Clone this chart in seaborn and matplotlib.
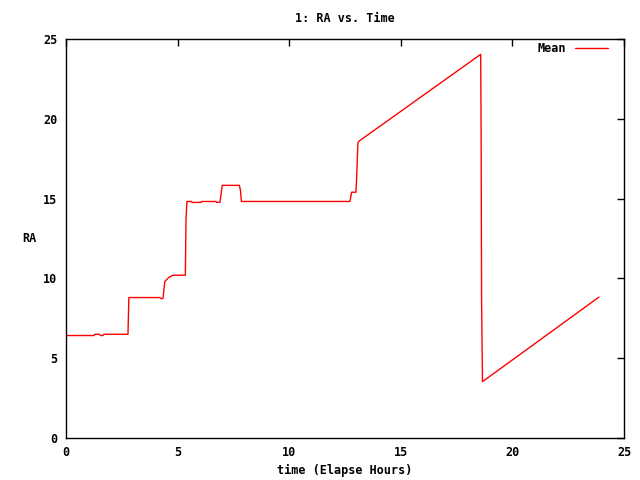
import matplotlib
matplotlib.use("Agg")
import matplotlib.pyplot as plt
import seaborn as sns
import pandas as pd

# mean RA per elapsed hour
time_hours = [0, 1.25, 1.3, 1.5, 1.55, 1.65, 1.7, 2.78, 2.82, 4.2, 4.3, 4.35,
              4.43, 4.6, 4.8, 5.35, 5.38, 5.42, 5.63, 5.65, 6.05, 6.07, 6.72,
              6.75, 6.9, 6.97, 7.0, 7.77, 7.82, 7.86, 12.72, 12.8, 12.99,
              13.02, 13.08, 13.13, 18.58, 18.6, 18.62, 18.66, 23.88]
ra_mean = [6.42, 6.42, 6.5, 6.5, 6.42, 6.42, 6.5, 6.5, 8.8, 8.8, 8.72, 8.75,
           9.8, 10.05, 10.2, 10.2, 13.7, 14.82, 14.82, 14.76, 14.76, 14.82, 14.82,
           14.76, 14.76, 15.5, 15.83, 15.83, 15.5, 14.82, 14.82, 15.4, 15.4,
           16.2, 18.5, 18.6, 24.04, 18.9, 8.7, 3.53, 8.83]

df = pd.DataFrame({"time": time_hours, "RA": ra_mean})

sns.set_style("white")
plt.rcParams["font.family"] = ["DejaVu Sans Mono"]
plt.rcParams["font.weight"] = "bold"
plt.rcParams["font.size"] = 8.5
plt.rcParams["text.color"] = "black"
plt.rcParams["axes.labelcolor"] = "black"
plt.rcParams["xtick.color"] = "black"
plt.rcParams["ytick.color"] = "black"

fig = plt.figure(figsize=(6.4, 4.8), dpi=100)
ax = fig.add_axes([0.103, 0.0875, 0.872, 0.83125])

sns.lineplot(data=df, x="time", y="RA", sort=False, color="red",
             linewidth=1.0, label="Mean", ax=ax)

ax.set_xlim(0, 25)
ax.set_ylim(0, 25)
ax.set_xticks([0, 5, 10, 15, 20, 25])
ax.set_yticks([0, 5, 10, 15, 20, 25])
ax.tick_params(direction="in", length=5, width=1, color="black",
               top=True, right=True, labelsize=8.5, pad=6)
for s in ax.spines.values():
    s.set_color("black")
    s.set_linewidth(1)

ax.set_title("1: RA vs. Time", fontsize=8.5, fontweight="bold", pad=12)
ax.set_xlabel("time (Elapse Hours)", fontsize=8.5, fontweight="bold", labelpad=3)
ax.set_ylabel("RA", fontsize=8.5, fontweight="bold", rotation=0, labelpad=10,
              va="center")

ax.legend(loc="upper right", frameon=False, markerfirst=False,
          handlelength=2.8, fontsize=8.5, borderaxespad=0,
          bbox_to_anchor=(0.98, 1.005))

fig.savefig("out.png", dpi=100)
